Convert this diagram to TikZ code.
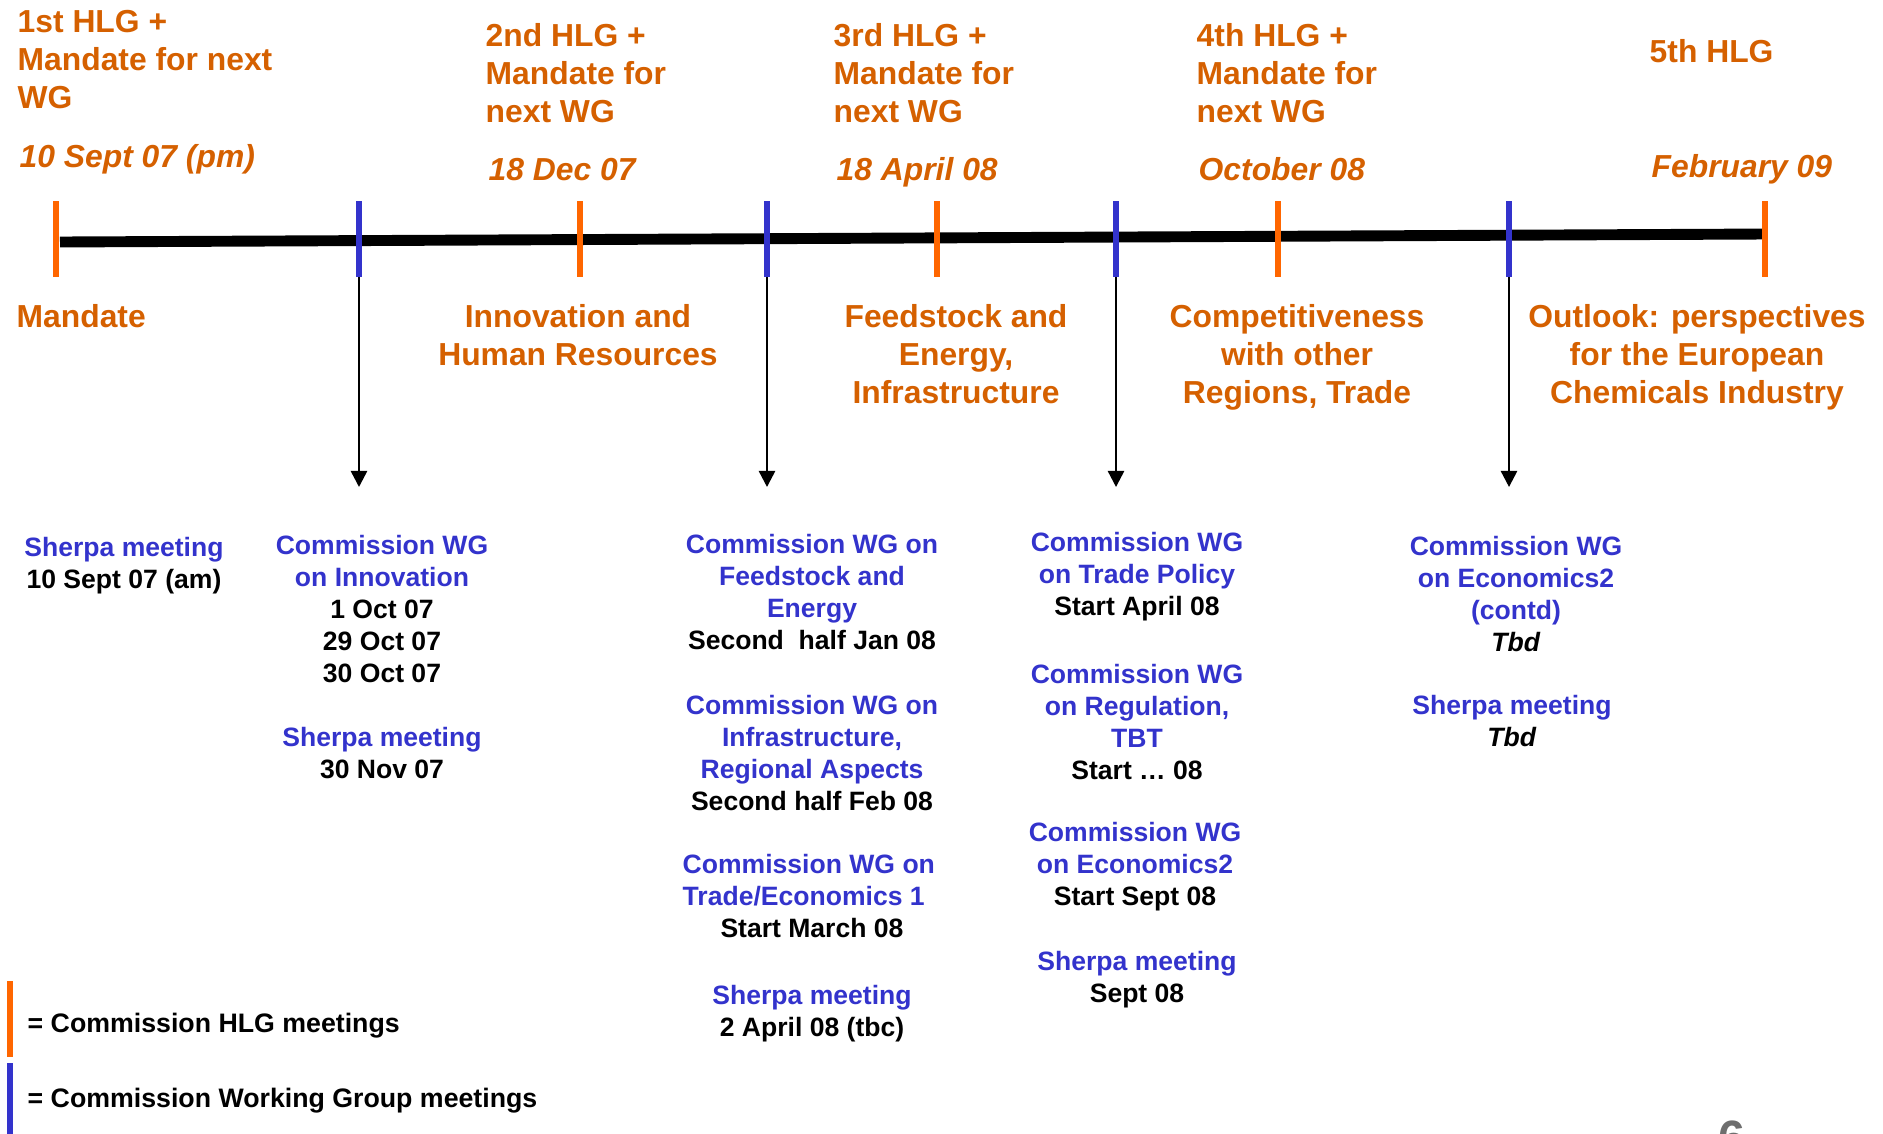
\documentclass[tikz,border=0pt]{standalone}
\usepackage{fontspec}
\setmainfont{Liberation Sans}
\usetikzlibrary{arrows.meta}
\definecolor{hlgorange}{HTML}{FF6600}
\definecolor{topicorange}{HTML}{D56000}
\definecolor{wgblue}{HTML}{3333CC}
\definecolor{pagegray}{HTML}{6E6E6E}
\newcommand{\wgt}[1]{\textcolor{wgblue}{#1}}
\begin{document}
\begin{tikzpicture}[x=0.01cm, y=-0.01cm, line join=round, >={Triangle[length=4.6pt,width=4.6pt]},
	hlglabel/.style={font=\fontsize{9.05}{10.8}\selectfont\bfseries, text=topicorange, inner sep=0pt},
	datelabel/.style={hlglabel, font=\fontsize{9.05}{10.8}\selectfont\bfseries\itshape},
	wgtext/.style={font=\fontsize{7.55}{9.1}\selectfont\bfseries, inner sep=0pt, align=center},
	legendtext/.style={font=\fontsize{7.6}{9}\selectfont\bfseries, inner sep=0pt, anchor=base west},
	hlgtick/.style={hlgorange, line width=1.7pt},
	wgtick/.style={wgblue, line width=1.7pt},
	link/.style={->, line width=0.7pt}] %timeline HLG / WG
	\useasboundingbox (0,0) rectangle (1883,1133);
	% arrows to the working group blocks
	\foreach \n/\x in {A/359,B/767,C/1116,D/1509}{
		\coordinate (wg\n) at (\x,262);
		\coordinate (wg\n end) at (\x,487);
		\draw[link] (wg\n)--(wg\n end);
	}
	\draw[line width=3.1pt] (60,242)--(1765,234);
	\foreach \x in {56,580,937,1278,1765} \draw[hlgtick] (\x,201)--(\x,277);
	\foreach \x in {359,767,1116,1509} \draw[wgtick] (\x,201)--(\x,277);
	% HLG meetings
	\node[hlglabel, anchor=west, align=left] (hlgA) at (17,60) {1st HLG +\\Mandate for next\\WG};
	\node[datelabel, anchor=base west] (dateA) at (19,167) {10 Sept 07 (pm)};
	\node[hlglabel, anchor=west, align=left] (hlgB) at (485,73) {2nd HLG +\\Mandate for\\next WG};
	\node[datelabel, anchor=base west] (dateB) at (488,180) {18 Dec 07};
	\node[hlglabel, anchor=west, align=left] (hlgC) at (833,73) {3rd HLG +\\Mandate for\\next WG};
	\node[datelabel, anchor=base west] (dateC) at (836,180) {18 April 08};
	\node[hlglabel, anchor=west, align=left] (hlgD) at (1196,73) {4th HLG +\\Mandate for\\next WG};
	\node[datelabel, anchor=base west] (dateD) at (1198,180) {October 08};
	\node[hlglabel, anchor=base west] (hlgE) at (1649,62) {5th HLG};
	\node[datelabel, anchor=base west] (dateE) at (1651,177) {February 09};
	% topics
	\node[hlglabel, anchor=base west] (topicA) at (16,327) {Mandate};
	\node[hlglabel, align=center] (topicB) at (578,335) {Innovation and\\Human Resources};
	\node[hlglabel, align=center] (topicC) at (956,354) {Feedstock and\\Energy,\\Infrastructure};
	\node[hlglabel, align=center] (topicD) at (1297,357) {Competitiveness\\with other\\Regions, Trade};
	\node[hlglabel, align=center] (topicE) at (1697,357) {Outlook: perspectives\\for the European\\Chemicals Industry};
	% working groups and sherpa meetings
	\node[wgtext] (sherpaA) at (124,566) {\wgt{Sherpa meeting}\\10 Sept 07 (am)};
	\node[wgtext] (wgInno) at (382,609) {\wgt{Commission WG}\\\wgt{on Innovation}\\1 Oct 07\\29 Oct 07\\30 Oct 07};
	\node[wgtext] (sherpaB) at (382,753) {\wgt{Sherpa meeting}\\30 Nov 07};
	\node[wgtext] (wgFeed) at (812,592) {\wgt{Commission WG on}\\\wgt{Feedstock and}\\\wgt{Energy}\\Second~ half Jan 08};
	\node[wgtext] (wgInfra) at (812,753) {\wgt{Commission WG on}\\\wgt{Infrastructure,}\\\wgt{Regional Aspects}\\Second half Feb 08};
	\node[wgtext, align=left, anchor=west] (wgTradeEco) at (682,880) {\wgt{Commission WG on}\\\wgt{Trade/Economics 1}};
	\node[wgtext, anchor=base] (wgTradeEcoDate) at (812,937) {Start March 08};
	\node[wgtext] (sherpaC) at (812,1014) {\wgt{Sherpa meeting}\\2 April 08 (tbc)};
	\node[wgtext] (wgTrade) at (1137,577) {\wgt{Commission WG}\\\wgt{on Trade Policy}\\Start April 08};
	\node[wgtext] (wgRegul) at (1137,722) {\wgt{Commission WG}\\\wgt{on Regulation,}\\\wgt{TBT}\\Start … 08};
	\node[wgtext] (wgEcon) at (1135,867) {\wgt{Commission WG}\\\wgt{on Economics2}\\Start Sept 08};
	\node[wgtext] (sherpaD) at (1137,980) {\wgt{Sherpa meeting}\\Sept 08};
	\node[wgtext] (wgEconB) at (1516,594) {\wgt{Commission WG}\\\wgt{on Economics2}\\\wgt{(contd)}\\\textit{Tbd}};
	\node[wgtext] (sherpaE) at (1512,721) {\wgt{Sherpa meeting}\\\textit{Tbd}};
	% legend
	\draw[hlgorange, line width=1.55pt] (10,981)--(10,1057);
	\draw[wgblue, line width=1.55pt] (10,1063)--(10,1140);
	\node[legendtext] (legHLG) at (27,1032) {= Commission HLG meetings};
	\node[legendtext] (legWG) at (27,1107) {= Commission Working Group meetings};
	\node[font=\fontsize{13.7}{16}\selectfont\bfseries, text=pagegray, inner sep=0pt, anchor=north] (pageno) at (1732,1120) {6};
\end{tikzpicture}
\end{document}
